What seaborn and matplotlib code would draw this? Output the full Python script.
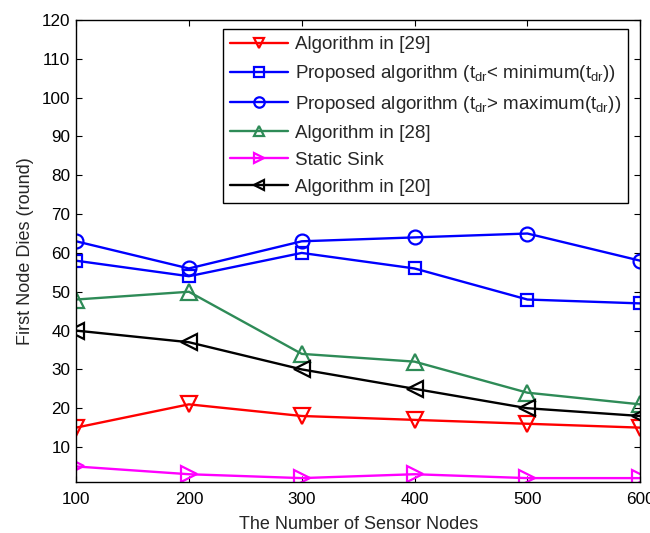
import matplotlib
matplotlib.use("Agg")
import matplotlib.pyplot as plt
import seaborn as sns
import pandas as pd

# Network sizes and first-node-death rounds for each method
nodes = [100, 200, 300, 400, 500, 600]
alg29 = [15, 21, 18, 17, 16, 15]
proposed_min = [58, 54, 60, 56, 48, 47]
proposed_max = [63, 56, 63, 64, 65, 58]
alg28 = [48, 50, 34, 32, 24, 21]
static_sink = [5, 3, 2, 3, 2, 2]
alg20 = [40, 37, 30, 25, 20, 18]

labels = [
    "Algorithm in [29]",
    r"Proposed algorithm (t$_{\mathrm{dr}}$< minimum(t$_{\mathrm{dr}}$))",
    r"Proposed algorithm (t$_{\mathrm{dr}}$> maximum(t$_{\mathrm{dr}}$))",
    "Algorithm in [28]",
    "Static Sink",
    "Algorithm in [20]",
]
series = [alg29, proposed_min, proposed_max, alg28, static_sink, alg20]
colors = ["#ff0000", "#0000ff", "#0000ff", "#2e8b57", "#ff00ff", "#000000"]
markers = ["v", "s", "o", "^", ">", "<"]
sizes = [11, 8.5, 10, 11, 11, 11]

sns.set_theme(style="white")
plt.rcParams["font.family"] = ["Liberation Sans", "DejaVu Sans"]
plt.rcParams["mathtext.fontset"] = "custom"
plt.rcParams["mathtext.rm"] = "Liberation Sans"
plt.rcParams["mathtext.it"] = "Liberation Sans:italic"

fig = plt.figure(figsize=(6.5, 5.33), dpi=100)
ax = fig.add_axes([0.117, 0.0957, 0.868, 0.8668])

for lab, vals, c, m, s in zip(labels, series, colors, markers, sizes):
    df = pd.DataFrame({"nodes": nodes, "rounds": vals})
    sns.lineplot(data=df, x="nodes", y="rounds", ax=ax, color=c, marker=m,
                 markersize=s, markerfacecolor="none", markeredgecolor=c,
                 markeredgewidth=1.6, linewidth=1.7, label=lab)

ax.set_xlim(100, 600)
ax.set_ylim(1, 120)
ax.set_xticks(nodes)
ax.set_yticks(range(10, 121, 10))
ax.tick_params(direction="in", length=4, width=0.8, labelsize=12.3, colors="black",
               top=True, right=True, bottom=True, left=True)
ax.tick_params(axis="x", pad=7)
ax.tick_params(axis="y", pad=4)
for sp in ax.spines.values():
    sp.set_color("black")
    sp.set_linewidth(1.0)

ax.set_xlabel("The Number of Sensor Nodes", fontsize=13, labelpad=7)
ax.set_ylabel("First Node Dies (round)", fontsize=13, labelpad=6)

leg = ax.legend(loc="upper right", bbox_to_anchor=(0.979, 0.981), borderaxespad=0,
                fontsize=13.5, handlelength=3.1, labelspacing=0.52, handletextpad=0.35,
                borderpad=0.4, fancybox=False, framealpha=1, edgecolor="black")
leg.get_frame().set_linewidth(1.0)
for h in leg.legend_handles:
    h.set_markersize(7.5)

fig.savefig("out.png", dpi=100, facecolor="white")
